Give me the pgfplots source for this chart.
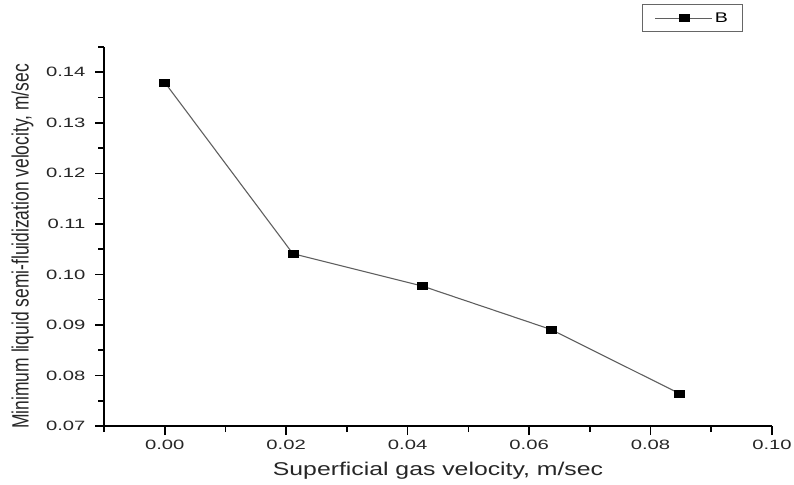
\documentclass[border=0pt]{standalone}
\usepackage{pgfplots}
\pgfplotsset{compat=1.18}
\usepackage{fontspec}
\setmainfont{Liberation Sans}
\newfontfamily\tickfont[FakeStretch=1.5]{Liberation Sans}
\newfontfamily\xlabfont[FakeStretch=1.34]{Liberation Sans}
\newfontfamily\ylabfont[FakeStretch=0.74]{Liberation Sans}
\newfontfamily\legfont[FakeStretch=1.4]{Liberation Sans}
\definecolor{linegray}{RGB}{95,95,95}
% filled rectangle marker, a little wider than tall
\pgfdeclareplotmark{widesquare}{%
  \pgfpathrectangle{\pgfpoint{-5pt}{-3.5pt}}{\pgfpoint{10pt}{7pt}}%
  \pgfusepathqfillstroke}
% a longer legend sample: line -- mark -- line
\pgfplotsset{long line legend/.style={
  legend image code/.code={%
    \draw[##1, mark=none] (0pt,0pt) -- (57pt,0pt);
    \draw[##1, only marks] plot coordinates {(28.5pt,0pt)};}}}
\begin{document}
\begin{tikzpicture}
\useasboundingbox (0,0) rectangle (794pt,484pt);
\begin{axis}[
  at={(104pt,58pt)}, anchor=south west,
  scale only axis,
  width=668pt, height=379pt,
  xmin=-0.01, xmax=0.10,
  ymin=0.07, ymax=0.145,
  axis x line*=bottom, axis y line*=left,
  axis line style={line width=1.6pt, black, -},
  xtick={0,0.02,0.04,0.06,0.08,0.10},
  ytick={0.07,0.08,0.09,0.10,0.11,0.12,0.13,0.14},
  minor xtick={-0.01,0.01,0.03,0.05,0.07,0.09},
  minor ytick={0.075,0.085,0.095,0.105,0.115,0.125,0.135,0.145},
  tick align=outside,
  major tick length=9pt, minor tick length=6pt,
  every tick/.style={line width=1.6pt, black},
  /pgf/number format/assume math mode=true,
  /pgf/number format/.cd, fixed, fixed zerofill, precision=2,
  /pgfplots/.cd,
  ticklabel style={font=\tickfont\fontsize{13.5}{15}\selectfont, text=black!85},
  yticklabel style={xshift=-6pt},
  xticklabel style={yshift=-2pt},
  xlabel={Superficial gas velocity, m/sec},
  ylabel={Minimum liquid semi-fluidization velocity, m/sec},
  xlabel style={font=\xlabfont\fontsize{18.5}{20}\selectfont, text=black!85,
    at={(axis description cs:0.5,-0.118)}, anchor=center},
  ylabel style={font=\ylabfont\fontsize{23.6}{25}\selectfont, text=black!85,
    at={(axis description cs:-0.122,0.474)}, anchor=center, rotate=0},
  legend style={at={(rel axis cs:0.9566,1.1135)}, anchor=north east,
    draw=black!60, line width=1pt, font=\legfont\fontsize{14}{16}\selectfont,
    inner xsep=12.5pt, inner ysep=6pt},
]
\addplot[linegray, line width=1.1pt,
  mark=widesquare,
  mark options={black, fill=black, line width=0.5pt, solid},
  long line legend]
  coordinates {
    (0.0000, 0.1380)
    (0.0211, 0.1041)
    (0.0424, 0.0977)
    (0.0636, 0.0891)
    (0.0848, 0.0764)
  };
\addlegendentry{B}
\end{axis}
\end{tikzpicture}
\end{document}
